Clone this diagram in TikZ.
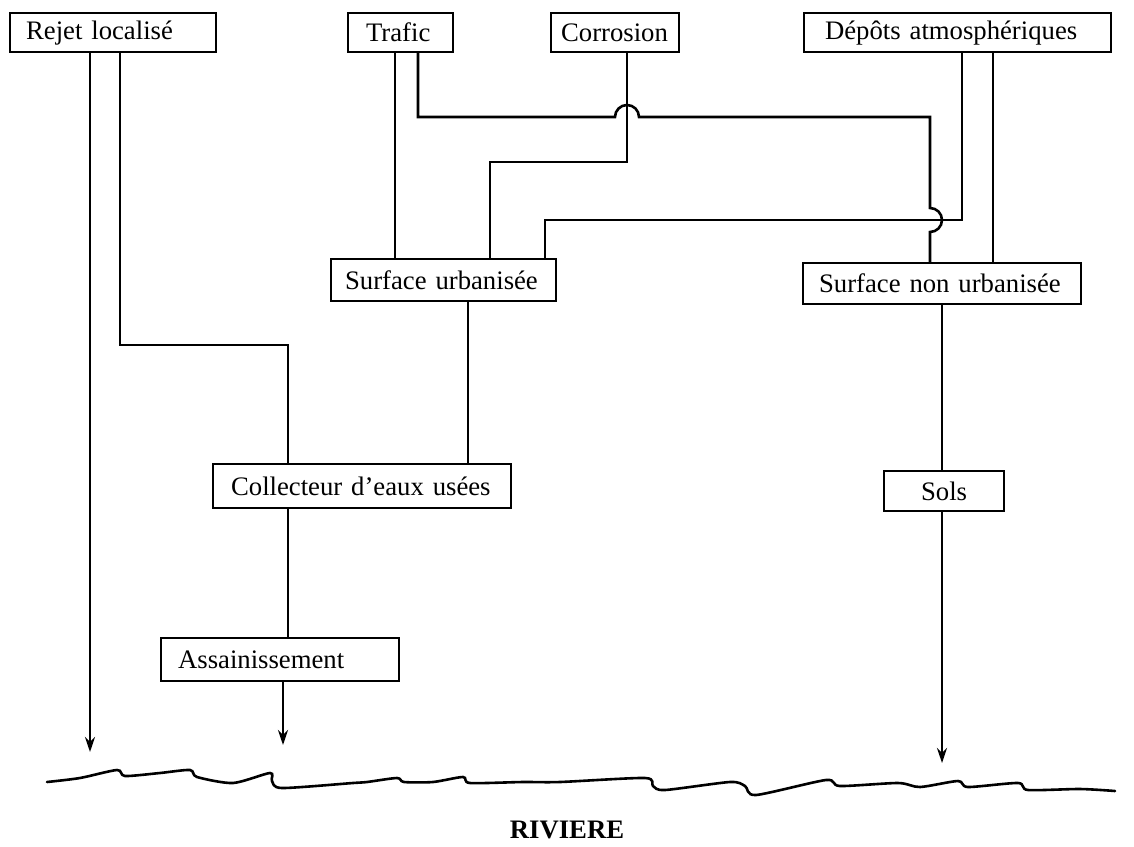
\documentclass[tikz,border=0pt]{standalone}
\usepackage{fontspec}
\setmainfont{Liberation Serif}
\usetikzlibrary{arrows.meta}

\begin{document}
\begin{tikzpicture}[x=1pt, y=-1pt,
    boite/.style={draw, line width=2.2pt, anchor=north west, inner xsep=16pt,
        inner ysep=0pt, minimum height=39pt, align=left,
        font=\fontsize{26.7}{30}\selectfont},
    lien/.style={line width=2.6pt},
    fleche/.style={lien, -{Stealth[length=15pt, width=10pt]}}]
    \useasboundingbox (0,0) rectangle (1134,846);

    % sources
    \node[boite, text width=174pt] (rejet) at (9,12) {Rejet localisé};
    \node[boite, text width=69pt, inner xsep=18pt] (trafic) at (347,12) {Trafic};
    \node[boite, text width=108pt, inner xsep=10pt] (corrosion) at (550,12) {Corrosion};
    \node[boite, text width=265pt, inner xsep=21pt] (depots) at (803,12) {\mbox{Dépôts atmosphériques}};

    % surfaces
    \node[boite, text width=197pt, inner xsep=14pt, minimum height=42pt] (surfurb) at (330,258) {Surface urbanisée};
    \node[boite, text width=246pt, minimum height=41pt] (surfnon) at (802,262) {Surface non urbanisée};

    % reseau et sols
    \node[boite, text width=262pt, inner xsep=18pt, minimum height=44pt] (collect) at (212,463) {Collecteur d'eaux usées};
    \node[boite, text width=204pt, inner xsep=17pt, minimum height=43pt] (assain) at (160,637) {Assainissement};
    \node[boite, text width=88pt, align=center, minimum height=40pt] (sols) at (883,470) {Sols};

    % points d'arrivee dans la riviere
    \coordinate (r1) at (90,752);
    \coordinate (r2) at (283,745);
    \coordinate (r3) at (942,763);

    % rejet localise
    \draw[fleche] (rejet.south -| 90,0) -- (r1);
    \draw[lien] (rejet.south -| 120,0) |- (288,345) -- (collect.north -| 288,0);

    % trafic
    \draw[lien] (trafic.south -| 395,0) -- (surfurb.north -| 395,0);
    \draw[lien] (trafic.south -| 418,0) |- (615,117)
        arc[start angle=180, end angle=0, radius=12pt] -- (930,117) -- (930,208)
        arc[start angle=90, end angle=-90, radius=12pt] -- (surfnon.north -| 930,0);

    % corrosion
    \draw[lien] (corrosion.south -| 627,0) |- (490,162) -- (surfurb.north -| 490,0);

    % depots atmospheriques
    \draw[lien] (depots.south -| 962,0) |- (545,220) -- (surfurb.north -| 545,0);
    \draw[lien] (depots.south -| 993,0) -- (surfnon.north -| 993,0);

    % vers la riviere
    \draw[lien] (surfurb.south -| 468,0) -- (collect.north -| 468,0);
    \draw[lien] (collect.south -| 288,0) -- (assain.north -| 288,0);
    \draw[fleche] (assain.south -| 283,0) -- (r2);
    \draw[lien] (surfnon.south -| 942,0) -- (sols.north -| 942,0);
    \draw[fleche] (sols.south -| 942,0) -- (r3);

    % riviere
    \draw[lien, line cap=round] plot[smooth, tension=0.45] coordinates {
        (47,782) (80,778) (117,770) (125,776) (160,773) (190,770) (197,777)
        (233,783) (270,773) (272,781) (282,788) (353,783) (367,782) (397,778)
        (404,782) (433,782) (463,777) (470,783) (523,782) (560,782) (645,778)
        (653,786) (665,790) (730,782) (745,786) (756,795) (826,780) (840,786)
        (898,783) (920,787) (958,781) (968,787) (1018,783) (1028,790)
        (1080,789) (1115,791)};
    \node[font=\fontsize{26.7}{30}\selectfont\bfseries] (riviere) at (567,830) {RIVIERE};
\end{tikzpicture}
\end{document}
